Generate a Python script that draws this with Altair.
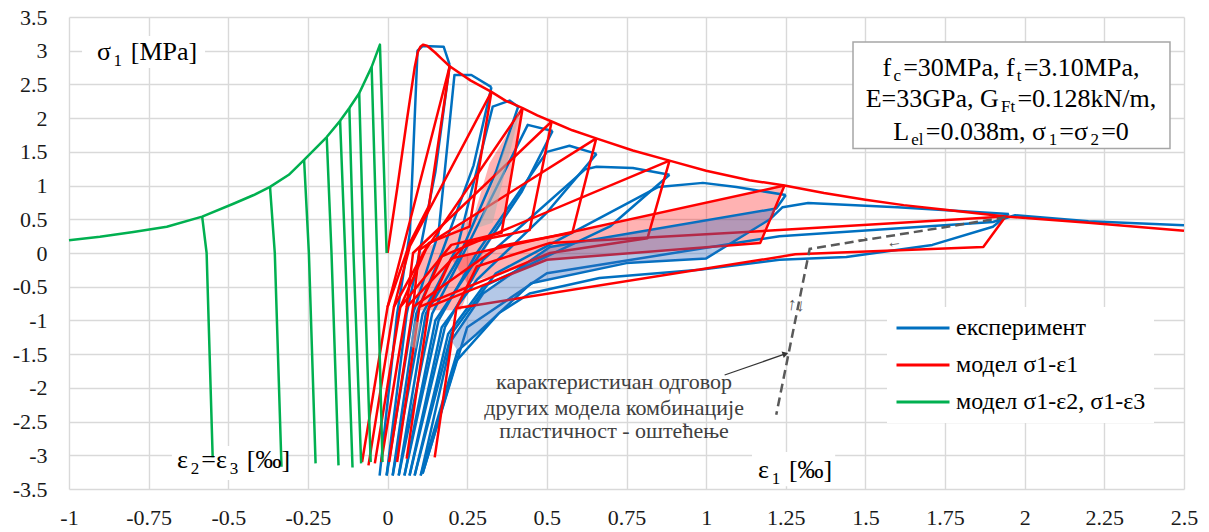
import altair as alt
import pandas as pd

# ---------------- axes ----------------
x_ticks = [-1, -0.75, -0.5, -0.25, 0, 0.25, 0.5, 0.75, 1, 1.25, 1.5, 1.75, 2, 2.25, 2.5]
y_ticks = [-3.5, -3, -2.5, -2, -1.5, -1, -0.5, 0, 0.5, 1, 1.5, 2, 2.5, 3, 3.5]

series_names = ["експеримент", "модел σ1-ε1", "модел σ1-ε2, σ1-ε3"]
series_colors = ["#0070C0", "#FF0000", "#00B050"]

# ---------------- green: model σ1-ε2, σ1-ε3 ----------------
green_env_x = [-1.0, -0.903, -0.798, -0.693, -0.582, -0.484, -0.42, -0.369, -0.31, -0.262, -0.191,
               -0.149, -0.12, -0.089, -0.05, -0.024, -0.003]
green_env_y = [0.19, 0.24, 0.31, 0.39, 0.54, 0.73, 0.86, 0.98, 1.16, 1.38, 1.72,
               1.96, 2.15, 2.37, 2.76, 3.09, 0.0]
green_br_top_x = [-0.582, -0.369, -0.262, -0.191, -0.149, -0.12, -0.089, -0.05]
green_br_top_y = [0.54, 0.98, 1.38, 1.72, 1.96, 2.15, 2.37, 2.76]
green_br_mid_x = [-0.568, -0.354, -0.247, -0.176, -0.133, -0.107, -0.075, -0.033]
green_br_bot_x = [-0.549, -0.333, -0.226, -0.154, -0.11, -0.083, -0.053, -0.016]
green_br_bot_y = [-3.03, -3.17, -3.12, -3.15, -3.18, -3.12, -3.1, -3.1]

# ---------------- red: model σ1-ε1 ----------------
red_env_x = [0.0, 0.03, 0.06, 0.085, 0.095, 0.103, 0.112, 0.125, 0.15, 0.17, 0.195, 0.26, 0.326,
             0.37, 0.424, 0.47, 0.515, 0.58, 0.655, 0.77, 0.885, 1.0, 1.136, 1.246, 1.37, 1.5,
             1.62, 1.75, 1.94, 2.2, 2.5]
red_env_y = [0.0, 0.95, 1.95, 2.75, 2.98, 3.06, 3.09, 3.07, 2.97, 2.88, 2.77, 2.56, 2.39,
             2.26, 2.15, 2.04, 1.95, 1.82, 1.70, 1.52, 1.37, 1.22, 1.08, 1.0, 0.89, 0.79,
             0.71, 0.64, 0.54, 0.45, 0.33]
red_unload_x = [
    [0.195, 0.13, 0.07, 0.0, -0.08],
    [0.326, 0.257, 0.13, 0.02, -0.06],
    [0.424, 0.358, 0.2, 0.04, -0.04],
    [0.515, 0.446, 0.25, 0.06, -0.02],
    [0.655, 0.58, 0.35, 0.08, 0.005],
    [0.885, 0.816, 0.51, 0.1, 0.03],
    [1.246, 1.17, 0.5, 0.13, 0.06],
    [1.94, 1.87, 1.28, 0.216, 0.148],
]
red_unload_y = [
    [2.77, 0.7, 0.15, -0.8, -3.1],
    [2.39, 0.39, 0.15, -0.8, -3.15],
    [2.15, 0.30, 0.12, -0.8, -3.12],
    [1.95, 0.34, 0.15, -0.8, -3.1],
    [1.70, 0.30, 0.1, -0.8, -3.1],
    [1.37, 0.22, 0.0, -0.8, -3.1],
    [1.0, 0.15, -0.1, -0.8, -3.05],
    [0.54, 0.09, -0.02, -0.82, -3.03],
]
red_reload_x = [
    [0.0, 0.05, 0.195],
    [0.02, 0.07, 0.326],
    [0.04, 0.12, 0.424],
    [0.06, 0.08, 0.515],
    [0.08, 0.1, 0.655],
    [0.1, 0.17, 0.885],
    [0.13, 0.2, 1.246],
    [0.216, 0.28, 0.51, 1.23, 1.94],
]
red_reload_y = [
    [-0.8, 0.1, 2.77],
    [-0.8, 0.1, 2.39],
    [-0.8, 0.05, 2.15],
    [-0.8, 0.0, 1.95],
    [-0.8, 0.05, 1.70],
    [-0.8, -0.05, 1.37],
    [-0.8, -0.08, 1.0],
    [-0.82, -0.2, 0.15, 0.34, 0.54],
]

# ---------------- blue: experiment ----------------
blue_x = [
    [-0.025, 0.03, 0.07, 0.094, 0.11, 0.176, 0.195],
    [0.195, 0.15, 0.1, 0.06, -0.003],
    [-0.003, 0.08, 0.16, 0.21, 0.263, 0.326],
    [0.326, 0.27, 0.17, 0.09, 0.016],
    [0.016, 0.11, 0.22, 0.33, 0.383, 0.41],
    [0.41, 0.34, 0.22, 0.12, 0.035],
    [0.035, 0.14, 0.25, 0.44, 0.518],
    [0.518, 0.42, 0.25, 0.15, 0.053],
    [0.053, 0.16, 0.28, 0.5, 0.571, 0.656],
    [0.656, 0.5, 0.28, 0.17, 0.069],
    [0.069, 0.18, 0.3, 0.62, 0.656, 0.77, 0.885],
    [0.885, 0.7, 0.3, 0.19, 0.085],
    [0.085, 0.2, 0.34, 0.85, 0.99, 1.095, 1.25],
    [1.25, 1.22, 0.51, 0.3, 0.2, 0.104],
    [0.104, 0.22, 0.28, 0.45, 0.75, 1.0, 1.2, 1.24, 1.32, 1.6, 1.95],
    [1.95, 1.9, 1.71, 1.44, 1.23, 0.98, 0.665, 0.446, 0.35, 0.216, 0.11],
    [0.11, 0.25, 0.5, 1.23, 1.9, 1.97, 2.2, 2.5],
]
blue_y = [
    [-3.3, -0.9, 0.3, 3.0, 3.07, 3.06, 2.79],
    [2.79, 1.2, 0.0, -0.9, -3.3],
    [-3.3, -0.9, 0.3, 2.64, 2.64, 2.46],
    [2.46, 1.3, 0.0, -0.9, -3.3],
    [-3.3, -0.9, 0.1, 2.17, 2.26, 2.17],
    [2.17, 1.2, -0.1, -0.9, -3.3],
    [-3.3, -0.9, 0.1, 1.9, 1.81],
    [1.81, 0.9, -0.3, -1.0, -3.3],
    [-3.3, -1.0, 0.0, 1.5, 1.59, 1.47],
    [1.47, 0.6, -0.4, -1.1, -3.3],
    [-3.3, -1.1, -0.1, 1.24, 1.28, 1.26, 1.16],
    [1.16, 0.4, -0.5, -1.2, -3.3],
    [-3.3, -1.2, -0.3, 0.98, 1.04, 0.98, 0.86],
    [0.86, 0.66, 0.09, -0.6, -1.3, -3.3],
    [-3.3, -1.45, -1.2, -0.45, -0.15, -0.08, 0.5, 0.68, 0.74, 0.68, 0.58],
    [0.58, 0.39, 0.12, -0.06, -0.1, -0.25, -0.37, -0.6, -0.89, -1.6, -3.27],
    [-3.27, -1.1, -0.3, 0.25, 0.46, 0.56, 0.47, 0.41],
]

# ---------------- shaded loops ----------------
pink_x = [[0.424, 0.39, 0.37, 0.30, 0.23, 0.09, 0.10, 0.27, 0.32],
          [1.246, 1.17, 0.5, 0.25, 0.2, 0.51]]
pink_y = [[2.15, 1.33, 0.53, 0.0, -0.85, -0.85, 0.0, 0.53, 1.33],
          [1.0, 0.15, -0.1, -0.45, -0.08, 0.24]]
gray_x = [[0.415, 0.405, 0.33, 0.285, 0.37], [0.085, 0.105, 0.09, 0.07]]
gray_y = [[2.13, 1.9, 0.45, 0.38, 1.6], [-1.0, -1.05, -1.42, -1.38]]
bluefill_x = [1.22, 0.51, 0.3, 0.2, 0.22, 0.28, 0.45, 0.75, 1.0, 1.2]
bluefill_y = [0.66, 0.09, -0.6, -1.3, -1.45, -1.2, -0.45, -0.15, -0.08, 0.5]

# other models (dashed)
dash_x = [1.94, 1.325, 1.22]
dash_y = [0.53, 0.06, -2.4]
pointer_x = [1.058, 1.246]
pointer_y = [-1.81, -1.5]

# ---------------- build tables ----------------
rows = []


def add_curve(series, cid, xs, ys):
    for i, (x, y) in enumerate(zip(xs, ys)):
        rows.append({"series": series, "cid": cid, "o": i, "x": x, "y": y})


add_curve(series_names[2], "g_env", green_env_x, green_env_y)
for i in range(len(green_br_top_x)):
    add_curve(series_names[2], f"g_br{i}",
              [green_br_top_x[i], green_br_mid_x[i], green_br_bot_x[i]],
              [green_br_top_y[i], 0.0, green_br_bot_y[i]])
add_curve(series_names[1], "r_env", red_env_x, red_env_y)
for i in range(len(red_unload_x)):
    add_curve(series_names[1], f"r_u{i}", red_unload_x[i], red_unload_y[i])
    add_curve(series_names[1], f"r_r{i}", red_reload_x[i], red_reload_y[i])
for i in range(len(blue_x)):
    add_curve(series_names[0], f"b{i}", blue_x[i], blue_y[i])
lines = pd.DataFrame(rows)

pink_df = pd.DataFrame([{"pid": f"p{k}", "o": i, "x": x, "y": y}
                        for k in range(len(pink_x))
                        for i, (x, y) in enumerate(zip(pink_x[k], pink_y[k]))])
gray_df = pd.DataFrame([{"pid": f"g{k}", "o": i, "x": x, "y": y}
                        for k in range(len(gray_x))
                        for i, (x, y) in enumerate(zip(gray_x[k], gray_y[k]))])
bluefill_df = pd.DataFrame({"o": list(range(len(bluefill_x))), "x": bluefill_x, "y": bluefill_y})
dash_df = pd.DataFrame({"o": [0, 1, 2], "x": dash_x, "y": dash_y})
pointer_df = pd.DataFrame({"o": [0, 1], "x": pointer_x, "y": pointer_y})

# ---------------- text layout helpers ----------------
PX_X = 1115 / 3.5
PX_Y = 472 / 7.0
EM = {'f': .333, 'c': .444, '=': .564, 'M': .889, 'P': .556, 'a': .444, ',': .25, ' ': .25,
      't': .278, '.': .25, 'E': .611, 'G': .722, 'F': .556, 'k': .5, 'N': .722, '/': .278,
      'm': .778, 'L': .611, 'e': .444, 'l': .278, 'σ': .55, '[': .333, ']': .333, 'ε': .44,
      '‰': 1.0, '-': .333}
MAIN, SUB, DROP, GAP = 26, 17, 5.5, 2.2


def tw(s, fs):
    return sum(EM.get(ch, 0.5) for ch in s) * fs


def layout(segs, x, y, center=False):
    total = sum(tw(s, SUB if b else MAIN) + GAP for s, b in segs) - GAP
    cur = x - total / 2 / PX_X if center else x
    out = []
    for s, b in segs:
        fs = SUB if b else MAIN
        st = s.lstrip(" ")
        cur += tw(" " * (len(s) - len(st)), fs) / PX_X
        out.append({"x": cur, "y": y - (DROP / PX_Y if b else 0.0), "t": st, "sub": b})
        cur += (tw(st, fs) + GAP) / PX_X
    return out


info_lines = [
    [("f", 0), ("c", 1), ("=30MPa, f", 0), ("t", 1), ("=3.10MPa,", 0)],
    [("E=33GPa, G", 0), ("Ft", 1), ("=0.128kN/m,", 0)],
    [("L", 0), ("el", 1), ("=0.038m, σ", 0), ("1", 1), ("=σ", 0), ("2", 1), ("=0", 0)],
]
info_base_y = [2.63, 2.17, 1.68]
trows = []
for segs, yb in zip(info_lines, info_base_y):
    trows += layout(segs, 1.957, yb, center=True)
trows += layout([("σ", 0), ("1", 1), (" [MPa]", 0)], -0.912, 2.862)
trows += layout([("ε", 0), ("2", 1), ("=ε", 0), ("3", 1), (" [‰]", 0)], -0.661, -3.19)
trows += layout([("ε", 0), ("1", 1), (" [‰]", 0)], 1.163, -3.34)
tdf = pd.DataFrame(trows)
main_df = tdf[tdf["sub"] == 0]
sub_df = tdf[tdf["sub"] == 1]

note_lines = ["карактеристичан одговор", "других модела комбинације", "пластичност - оштећење"]
note_df = pd.DataFrame({"x": [0.711] * 3, "y": [-2.017, -2.40, -2.74], "t": note_lines})

white_boxes = pd.DataFrame({
    "x": [-0.959, -0.677, 1.144], "x2": [-0.573, -0.316, 1.405],
    "y": [3.218, -2.862, -2.951], "y2": [2.744, -3.366, -3.46]})
info_box = pd.DataFrame({"x": [1.461], "x2": [2.456], "y": [3.129], "y2": [1.55]})
glyph_df = pd.DataFrame({"x": [1.49, 1.59], "y": [0.235, 0.165], "t": ["→", "←"]})
vglyph_df = pd.DataFrame({"x": [1.283], "y": [-0.78], "t": ["↑↓"]})
head_df = pd.DataFrame({"x": [pointer_x[1]], "y": [pointer_y[1]]})

# ---------------- encodings ----------------
FONT = "Liberation Serif"
xs = alt.Scale(domain=[-1, 2.5], nice=False, zero=False)
ys = alt.Scale(domain=[-3.5, 3.5], nice=False, zero=False)
lbl = "datum.value < 0 ? '-' + format(-datum.value, '~g') : format(datum.value, '~g')"
x_axis = alt.Axis(values=x_ticks, title=None, labelExpr=lbl, labelPadding=18, tickSize=0,
                  ticks=False, domain=False, labelFlush=False, labelOverlap=False,
                  labelFont=FONT, labelFontSize=22, labelColor="#1A1A1A",
                  gridColor="#D9D9D9", gridWidth=1.4)
y_axis = alt.Axis(values=y_ticks, title=None, labelExpr=lbl, labelPadding=22, tickSize=0,
                  ticks=False, domain=False, labelOverlap=False,
                  labelFont=FONT, labelFontSize=22, labelColor="#1A1A1A",
                  gridColor="#D9D9D9", gridWidth=1.4)


def X(f="x"):
    return alt.X(f + ":Q", scale=xs, axis=x_axis)


def Y(f="y"):
    return alt.Y(f + ":Q", scale=ys, axis=y_axis)


color = alt.Color("series:N", scale=alt.Scale(domain=series_names, range=series_colors),
                  legend=alt.Legend(title=None, orient="none", legendX=818, legendY=290,
                                    fillColor="white", padding=8, symbolType="stroke",
                                    symbolSize=2809, symbolStrokeWidth=3, clipHeight=26,
                                    rowPadding=11, labelOffset=5, labelFont=FONT,
                                    labelFontSize=24, labelColor="#000000", labelLimit=400))

pink_layer = alt.Chart(pink_df).mark_line(fill="#FF0000", fillOpacity=0.3, strokeOpacity=0).encode(
    x=X(), y=Y(), detail="pid:N", order="o:Q")
box_layer = alt.Chart(white_boxes).mark_rect(fill="white").encode(
    x=X(), x2="x2:Q", y=Y(), y2="y2:Q")
info_layer = alt.Chart(info_box).mark_rect(fill="white", stroke="#A6A6A6", strokeWidth=1.5).encode(
    x=X(), x2="x2:Q", y=Y(), y2="y2:Q")


def line_layer(name):
    d = lines[lines["series"] == name]
    return alt.Chart(d).mark_line(strokeWidth=2.5, strokeJoin="round").encode(
        x=X(), y=Y(), color=color, detail="cid:N", order="o:Q")


dash_layer = alt.Chart(dash_df).mark_line(color="#595959", strokeWidth=2.5, strokeDash=[9, 5]).encode(
    x=X(), y=Y(), order="o:Q")
gray_layer = alt.Chart(gray_df).mark_line(fill="#B0B0B0", fillOpacity=0.55, strokeOpacity=0).encode(
    x=X(), y=Y(), detail="pid:N", order="o:Q")
bluefill_layer = alt.Chart(bluefill_df).mark_line(fill="#3A6FC0", fillOpacity=0.38, strokeOpacity=0).encode(
    x=X(), y=Y(), order="o:Q")
pointer_layer = alt.Chart(pointer_df).mark_line(color="#333333", strokeWidth=1.2).encode(
    x=X(), y=Y(), order="o:Q")
head_layer = alt.Chart(head_df).mark_point(shape="triangle", filled=True, angle=71, size=45,
                                           color="#333333", opacity=1).encode(x=X(), y=Y())
glyph_layer = alt.Chart(glyph_df).mark_text(font=FONT, fontSize=16, angle=352, color="#595959").encode(
    x=X(), y=Y(), text="t:N")
vglyph_layer = alt.Chart(vglyph_df).mark_text(font=FONT, fontSize=18, angle=8, color="#595959").encode(
    x=X(), y=Y(), text="t:N")
main_text = alt.Chart(main_df).mark_text(font=FONT, fontSize=MAIN, align="left", baseline="alphabetic",
                                         color="#000000").encode(x=X(), y=Y(), text="t:N")
sub_text = alt.Chart(sub_df).mark_text(font=FONT, fontSize=SUB, align="left", baseline="alphabetic",
                                       color="#000000").encode(x=X(), y=Y(), text="t:N")
note_text = alt.Chart(note_df).mark_text(font=FONT, fontSize=22, align="center", baseline="alphabetic",
                                         color="#404040").encode(x=X(), y=Y(), text="t:N")

chart = alt.layer(
    pink_layer, box_layer, info_layer,
    line_layer(series_names[0]), line_layer(series_names[1]), line_layer(series_names[2]),
    gray_layer, bluefill_layer, dash_layer, pointer_layer, head_layer, glyph_layer, vglyph_layer,
    main_text, sub_text, note_text,
).properties(
    width=1115, height=472,
    padding={"left": 69, "top": 17, "right": 25, "bottom": 43},
    autosize=alt.AutoSizeParams(type="none"),
    background="white",
).configure_view(stroke=None).configure_axis(
    grid=True, gridColor="#D9D9D9", gridWidth=1.4, labelFont=FONT, labelFontSize=22,
    labelColor="#1A1A1A",
).configure_text(font=FONT).configure_legend(labelFont=FONT)

chart.save("out.html", embed_options={"renderer": "svg", "actions": False})
